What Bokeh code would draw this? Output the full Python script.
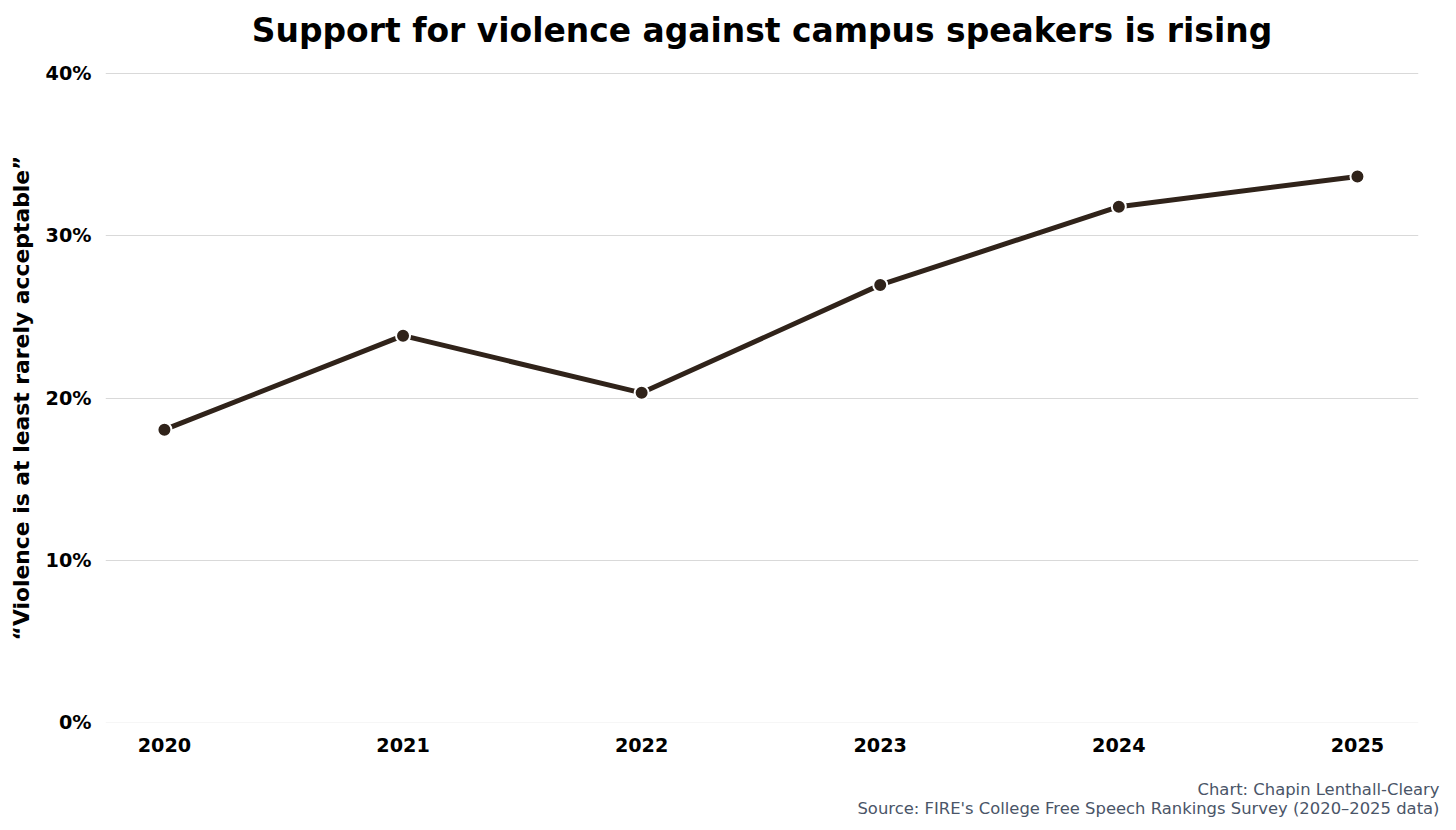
from bokeh.plotting import figure
from bokeh.models import ColumnDataSource, FixedTicker, Range1d, Title, Grid
from bokeh.embed import file_html
from bokeh.resources import INLINE

years = [2020, 2021, 2022, 2023, 2024, 2025]
support = [18.05, 23.84, 20.32, 26.97, 31.79, 33.65]
y_ticks = [0, 10, 20, 30, 40]
y_tick_labels = {0: "0%", 10: "10%", 20: "20%", 30: "30%", 40: "40%"}

TITLE = "Support for violence against campus speakers is rising"
Y_LABEL = "\u201cViolence is at least rarely acceptable\u201d"
CREDIT = "Chart: Chapin Lenthall-Cleary"
SOURCE = "Source: FIRE's College Free Speech Rankings Survey (2020\u20132025 data)"

FONT = "DejaVu Sans"
DARK = "#30231a"

src = ColumnDataSource(dict(year=years, support=support))

p = figure(width=1456, height=830, output_backend="svg", toolbar_location=None,
           title=None,
           x_range=Range1d(2019.753, 2025.256), y_range=Range1d(-0.06, 40.06),
           min_border_left=105, min_border_right=38, min_border_top=72, min_border_bottom=107)

p.outline_line_color = None
p.background_fill_color = "white"

# top: spacer (closest to frame) then main title
top_spacer = Title(text=" ", text_font_size="1px", standoff=13)
main_title = Title(text=TITLE, align="center", text_font=FONT, text_font_size="24.7pt",
                   text_font_style="bold", text_color="#000000", standoff=14)
p.add_layout(top_spacer, "above")
p.add_layout(main_title, "above")

# axes
p.xaxis.ticker = FixedTicker(ticks=years)
p.yaxis.ticker = FixedTicker(ticks=y_ticks)
p.yaxis.major_label_overrides = y_tick_labels
for ax in (p.xaxis, p.yaxis):
    ax.axis_line_color = None
    ax.major_tick_line_color = None
    ax.minor_tick_line_color = None
    ax.major_tick_out = 0
    ax.major_tick_in = 0
    ax.minor_tick_out = 0
    ax.major_label_text_font = FONT
    ax.major_label_text_font_size = "14.4pt"
    ax.major_label_text_font_style = "bold"
    ax.major_label_text_color = "#000000"
p.xaxis.major_label_standoff = 14
p.yaxis.major_label_standoff = 14

p.yaxis.axis_label = Y_LABEL
p.yaxis.axis_label_text_font = FONT
p.yaxis.axis_label_text_font_size = "16.4pt"
p.yaxis.axis_label_text_font_style = "bold"
p.yaxis.axis_label_text_color = "#000000"
p.yaxis.axis_label_standoff = 9

# grids
p.xgrid.grid_line_color = None
p.ygrid.grid_line_color = None
g1 = Grid(dimension=1, ticker=FixedTicker(ticks=y_ticks[1:]), grid_line_color="#d9d9d9", grid_line_width=1)
g0 = Grid(dimension=1, ticker=FixedTicker(ticks=y_ticks[:1]), grid_line_color="#f6f6f6", grid_line_width=1)
p.add_layout(g1)
p.add_layout(g0)

p.line("year", "support", source=src, line_color=DARK, line_width=5)
p.scatter("year", "support", source=src, size=14, fill_color=DARK,
          line_color="white", line_width=2)

# footer
bottom_spacer = Title(text=" ", text_font_size="1px", standoff=22)
chart_title = Title(text=CREDIT, align="right", text_font=FONT, text_font_size="12.3pt",
                    text_font_style="normal", text_color="#4a5568", offset=-21, standoff=-4)
src_title = Title(text=SOURCE, align="right", text_font=FONT, text_font_size="12.3pt",
                  text_font_style="normal", text_color="#4a5568", offset=-21, standoff=0)
p.add_layout(bottom_spacer, "below")
p.add_layout(chart_title, "below")
p.add_layout(src_title, "below")

open("out.html", "w").write(file_html(p, INLINE))
